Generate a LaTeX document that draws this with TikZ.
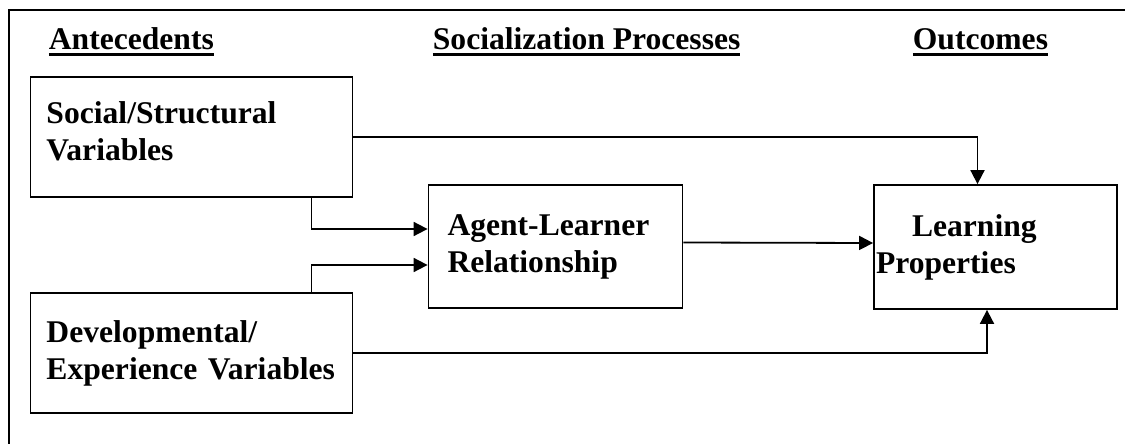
\documentclass[tikz,border=0pt]{standalone}
\usepackage{fontspec}
\setmainfont{Liberation Serif}
\usetikzlibrary{arrows.meta}

% heading with a heavy underline
\newsavebox{\headbox}
\newcommand{\ulhead}[1]{\sbox{\headbox}{#1}\rlap{\rule[-3.2pt]{\wd\headbox}{1.5pt}}\usebox{\headbox}}

\begin{document}
\begin{tikzpicture}[x=0.5pt, y=-0.5pt, line width=0.9pt,
  font=\fontsize{15.8}{18.5}\selectfont\bfseries,
  box/.style={draw, rectangle, align=left, inner ysep=0pt},
  head/.style={anchor=base west, inner sep=0pt},
  arr/.style={-{Triangle[length=7pt,width=7pt]}}]

  \useasboundingbox (0,0) rectangle (1125,444);
  \draw[line width=0.6pt] (1125,10) -- (9,10) -- (9,444);

  % column headings
  \node[head] (ante) at (48,50) {\ulhead{Antecedents}};
  \node[head] (proc) at (432,50) {\ulhead{Socialization Processes}};
  \node[head] (outc) at (912,50) {\ulhead{Outcomes}};

  \node[box, text width=145pt, inner xsep=8pt, minimum height=60pt] (soc) at (191.5,137) {Social/Structural\\Variables\rule[-6pt]{0pt}{6pt}};
  \node[box, text width=145pt, inner xsep=8pt, minimum height=60pt] (dev) at (191.5,353) {Developmental/\\Experience Variables};
  \node[box, text width=108pt, inner xsep=9.5pt, minimum height=61.5pt] (agent) at (555.5,246.5) {Agent-Learner\\Relationship};
  \node[box, text width=119.5pt, inner xsep=1pt, minimum height=62pt] (learn) at (995.5,247) {\hspace*{18pt}Learning\\Properties};

  \draw[arr] (soc.east) -| ([xshift=-9pt]learn.north);
  \draw[arr] ([xshift=60pt]soc.south) |- ([yshift=8.75pt]agent.west);
  \draw[arr] ([xshift=60pt]dev.north) |- ([yshift=-9.25pt]agent.west);
  \draw[arr] ([yshift=2pt]agent.east) -- ([yshift=2pt]learn.west);
  \draw[arr] (dev.east) -| ([xshift=-4.25pt]learn.south);

\end{tikzpicture}
\end{document}
